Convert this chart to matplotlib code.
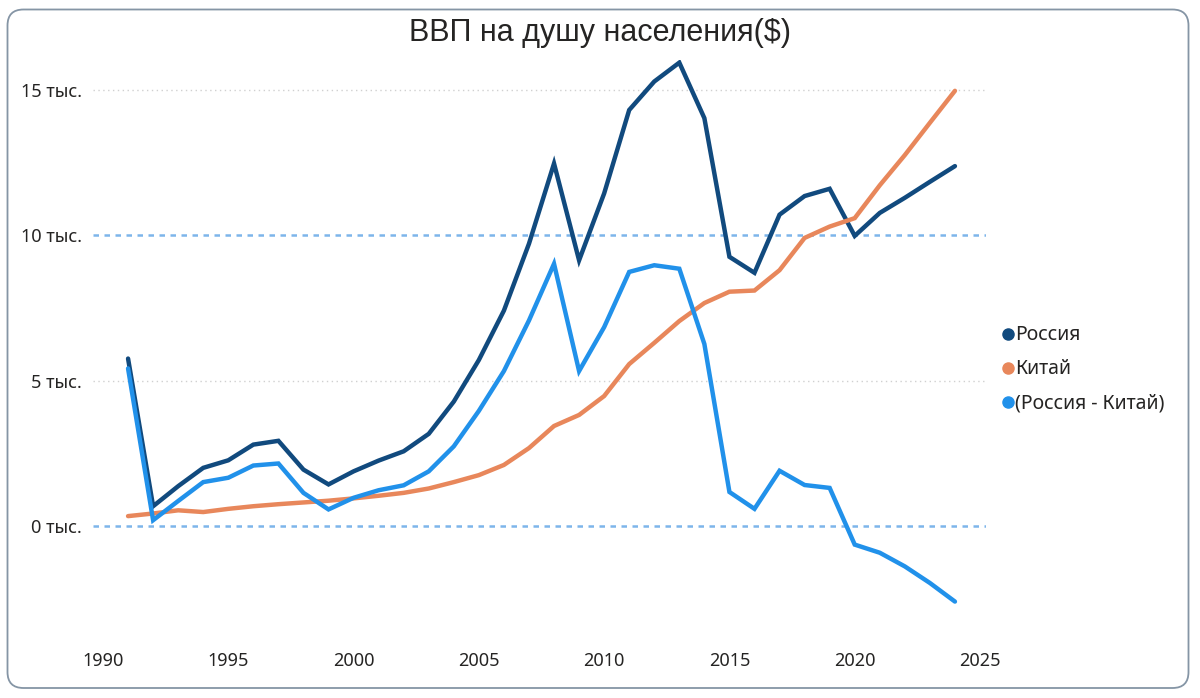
import matplotlib
matplotlib.use("Agg")
import matplotlib.pyplot as plt
from matplotlib.patches import FancyBboxPatch
from matplotlib.transforms import IdentityTransform
from matplotlib.lines import Line2D

years = list(range(1991, 2025))

russia = [5.76, 0.68, 1.37, 2.00, 2.26, 2.80, 2.93, 1.94, 1.43, 1.88,
          2.25, 2.57, 3.17, 4.28, 5.71, 7.41, 9.71, 12.47, 9.14, 11.44,
          14.31, 15.29, 15.94, 14.03, 9.26, 8.71, 10.71, 11.35, 11.60, 9.98,
          10.77, 11.29, 11.84, 12.38]

china = [0.34, 0.43, 0.54, 0.48, 0.59, 0.68, 0.75, 0.81, 0.87, 0.95,
         1.04, 1.14, 1.29, 1.51, 1.75, 2.10, 2.68, 3.44, 3.82, 4.47,
         5.57, 6.30, 7.05, 7.67, 8.06, 8.10, 8.80, 9.91, 10.30, 10.59,
         11.72, 12.76, 13.87, 14.97]

diff = [5.42, 0.20, 0.86, 1.51, 1.66, 2.08, 2.15, 1.14, 0.57, 0.97,
        1.23, 1.40, 1.88, 2.74, 3.96, 5.33, 7.07, 9.02, 5.33, 6.84,
        8.74, 8.97, 8.85, 6.26, 1.17, 0.59, 1.90, 1.41, 1.31, -0.64,
        -0.92, -1.39, -1.96, -2.60]

series_names = ["Россия", "Китай", "(Россия - Китай)"]
colors = ["#114A7E", "#E8875B", "#2191EA"]

title = "ВВП на душу населения($)"
y_ticks = [0, 5, 10, 15]
y_tick_labels = ["0 тыс.", "5 тыс.", "10 тыс.", "15 тыс."]
x_ticks = [1990, 1995, 2000, 2005, 2010, 2015, 2020, 2025]
ref_lines = [0, 10]
grid_lines = [5, 15]

W, H = 1200, 698
fig = plt.figure(figsize=(W / 100, H / 100), dpi=100)
fig.patch.set_facecolor("white")

# card border
border = FancyBboxPatch((7.5, H - 688), 1181, 678.5,
                        boxstyle="round,pad=0,rounding_size=16",
                        transform=IdentityTransform(), facecolor="none",
                        edgecolor="#8595A5", linewidth=1.3, zorder=0)
fig.patches.append(border)

# axes placement in pixels
ax_left, ax_right = 93, 986
ax_top, ax_bottom = 60, 640
ax = fig.add_axes([ax_left / W, 1 - ax_bottom / H,
                   (ax_right - ax_left) / W, (ax_bottom - ax_top) / H])
ax.set_facecolor("none")
ax.set_zorder(2)

pxy = 25.06  # px per year
x0 = 1990 - (103 - ax_left) / pxy
x1 = 2025 + (ax_right - 980) / pxy
ax.set_xlim(x0, x1)
pk = 29.07  # px per thousand
ax.set_ylim((526 - ax_bottom) / pk, (526 - ax_top) / pk)

for g in grid_lines:
    ax.axhline(g, color="#D0D0D0", lw=1.0, ls=(0, (1, 2.5)), zorder=1)
for r in ref_lines:
    ax.axhline(r, color="#7DB5EA", lw=1.8, ls=(0, (2.2, 2.2)), zorder=1)

for vals, c in zip([russia, china, diff], colors):
    ax.plot(years, vals, color=c, lw=3.2, solid_capstyle="round",
            solid_joinstyle="miter", zorder=3)

ax.set_yticks(y_ticks)
ax.set_yticklabels(y_tick_labels)
ax.set_xticks(x_ticks)
ax.set_xticklabels([str(x) for x in x_ticks])
ax.tick_params(length=0, labelsize=13, colors="#252423")
ax.tick_params(axis="y", pad=8)
ax.tick_params(axis="x", pad=9)
for lab in ax.get_xticklabels() + ax.get_yticklabels():
    lab.set_family("Noto Sans")
for s in ax.spines.values():
    s.set_visible(False)

fig.text(600 / W, 1 - 33 / H, title, ha="center", va="center",
         fontsize=22, family="Liberation Sans", color="#252423")

handles = [Line2D([], [], marker="o", ls="none", color=c, markersize=8)
           for c in colors]
leg = fig.legend(handles, series_names, loc="upper left",
                 bbox_to_anchor=(979 / W, 1 - 308 / H), frameon=False,
                 handletextpad=-0.25, labelspacing=0.72, handlelength=1.2,
                 prop={"family": "Noto Sans", "size": 14})
for t in leg.get_texts():
    t.set_color("#252423")

fig.savefig("out.png", dpi=100)
